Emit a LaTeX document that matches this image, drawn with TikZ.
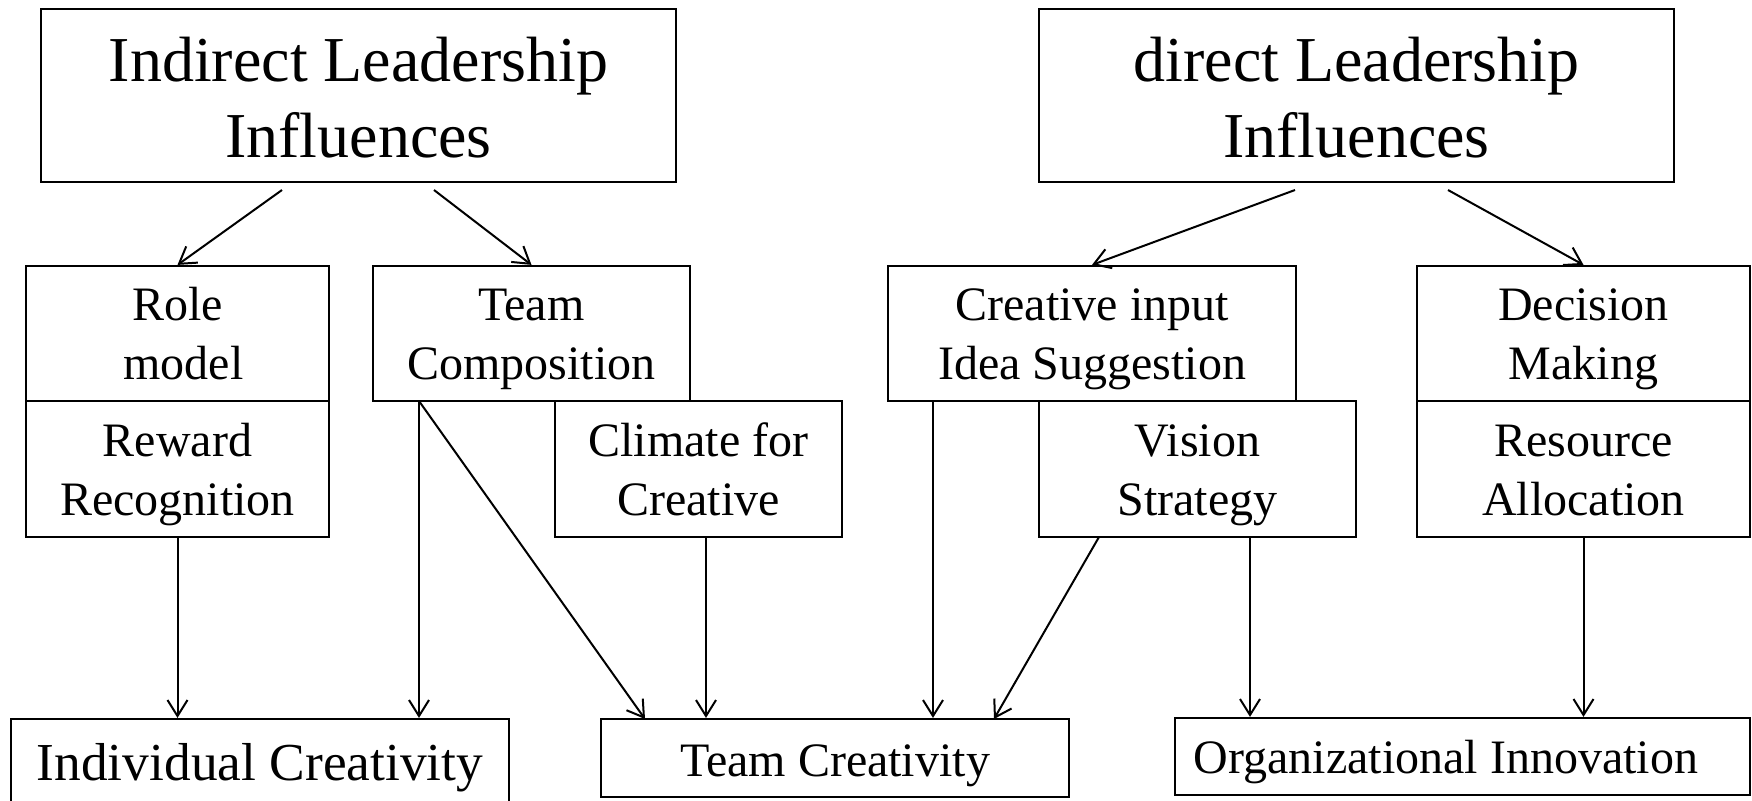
\documentclass[tikz,border=0pt]{standalone}
\usepackage{fontspec}
\setmainfont{Liberation Serif}
\usetikzlibrary{arrows.meta}
\newcommand\myH[1]{\rule{0pt}{#1}}
\newcommand\myD[1]{\rule[-#1]{0pt}{#1}}
\begin{document}
\begin{tikzpicture}[x=0.5pt,y=-0.5pt,
  box/.style={draw,line width=1.1pt,rectangle,inner sep=0pt,align=center},
  big/.style={font=\fontsize{32}{38}\selectfont},
  mid/.style={font=\fontsize{24}{29.5}\selectfont},
  conn/.style={line width=1pt,-{Straight Barb[length=8pt,width=10pt,line width=1pt]}},
  plain/.style={line width=1pt}]
\useasboundingbox (0,0) rectangle (1752,800);
% top boxes
\node[box,big,minimum width=317.5pt,minimum height=86.5pt] (ind) at (358.5,95.5) {\myH{31.5pt}Indirect Leadership\\Influences\myD{8pt}};
\node[box,big,minimum width=317.5pt,minimum height=86.5pt] (dir) at (1356.5,95.5) {\myH{31.5pt}direct Leadership\\Influences\myD{8pt}};
% middle boxes
\node[box,mid,minimum width=151.5pt,minimum height=67.5pt] (role) at (177.5,333.5) {\myH{22.5pt}Role\\\ model\myD{6pt}};
\node[box,mid,minimum width=151.5pt,minimum height=68pt] (reward) at (177.5,469) {\myH{22.5pt}Reward\\Recognition\myD{6pt}};
\node[box,mid,minimum width=158.5pt,minimum height=67.5pt] (teamc) at (531.5,333.5) {\myH{22.5pt}Team\\Composition\myD{6pt}};
\node[box,mid,minimum width=143.5pt,minimum height=68pt] (climate) at (698.5,469) {\myH{22.5pt}Climate for\\Creative\myD{6pt}};
\node[box,mid,minimum width=204pt,minimum height=67.5pt] (creative) at (1092,333.5) {\myH{22.5pt}Creative input\\Idea Suggestion\myD{6pt}};
\node[box,mid,minimum width=158.5pt,minimum height=68pt] (vision) at (1197.5,469) {\myH{22.5pt}Vision\\Strategy\myD{6pt}};
\node[box,mid,minimum width=166.5pt,minimum height=67.5pt] (decision) at (1583.5,333.5) {\myH{22.5pt}Decision\\Making\myD{6pt}};
\node[box,mid,minimum width=166.5pt,minimum height=68pt] (resource) at (1583.5,469) {\myH{22.5pt}Resource\\Allocation\myD{6pt}};
% bottom boxes
\node[box,font=\fontsize{26.7}{31}\selectfont,minimum width=249pt,minimum height=43pt] (indiv) at (260,762) {\myH{25pt}Individual Creativity\myD{7pt}};
\node[box,mid,minimum width=234pt,minimum height=39pt] (team) at (835,758) {\myH{25pt}Team Creativity\myD{7pt}};
\node[box,mid,minimum width=287.5pt,minimum height=38.5pt] (org) at (1462.5,756.5) {\myH{23.5pt}Organizational Innovation\myD{7pt}\hspace*{16.5pt}};
% connector start points
\coordinate (i1) at (282,190);
\coordinate (i2) at (434,190);
\coordinate (d1) at (1295,190);
\coordinate (d2) at (1448,190);
\coordinate (tc1) at (419,401);
\coordinate (cl1) at (706,537);
\coordinate (cr1) at (933,401);
\coordinate (v1) at (1099,537);
\coordinate (v2) at (1250,537);
\coordinate (t1) at (645,719);
\coordinate (t2) at (994,719);
% connectors
\draw[conn] (i1) -- (role.north);
\draw[conn] (i2) -- (teamc.north);
\draw[conn] (d1) -- (creative.north);
\draw[conn] (d2) -- (decision.north);
\draw[conn] (reward.south) -- (reward.south |- indiv.north);
\draw[conn] (tc1) -- (tc1 |- indiv.north);
\draw[conn] (tc1) -- (t1);
\draw[conn] (cl1) -- (cl1 |- team.north);
\draw[conn] (cr1) -- (cr1 |- team.north);
\draw[conn] (v1) -- (t2);
\draw[conn] (v2) -- (v2 |- org.north);
\draw[conn] (resource.south) -- (resource.south |- org.north);
\end{tikzpicture}
\end{document}
